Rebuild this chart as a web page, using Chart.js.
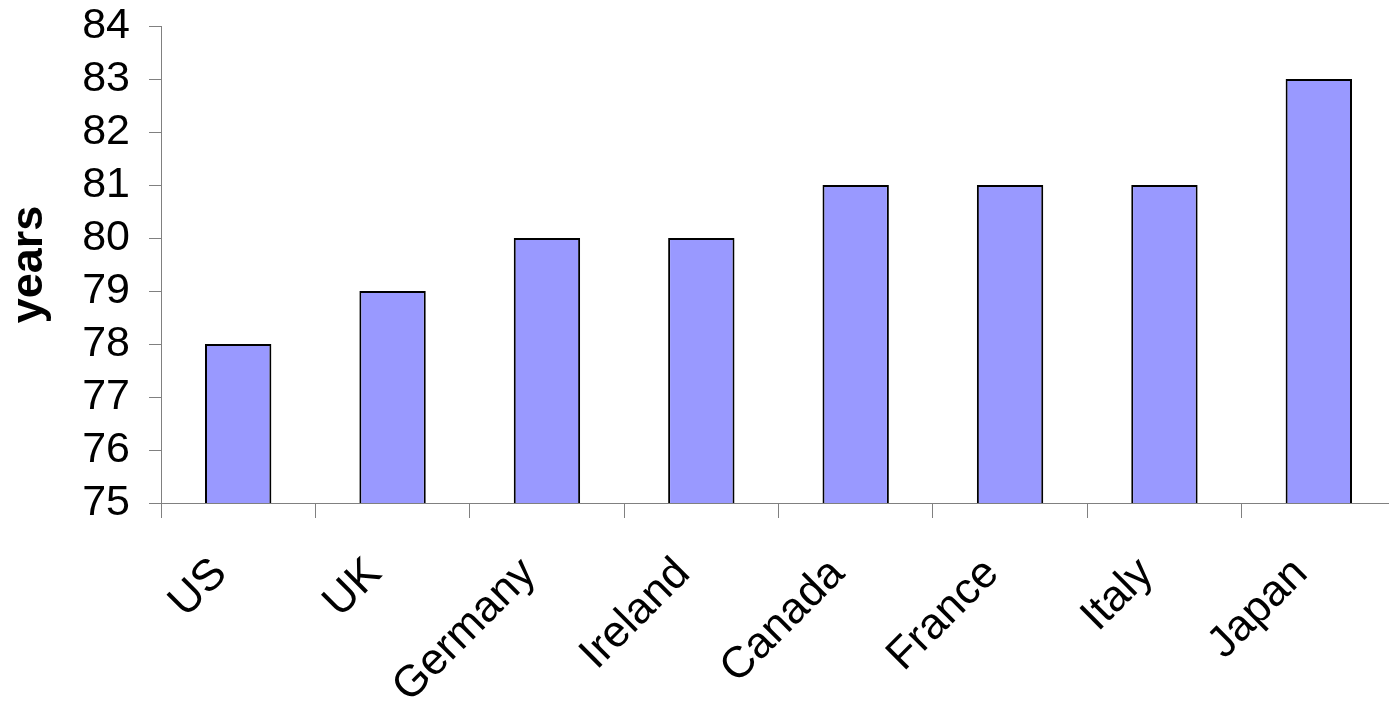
<!DOCTYPE html>
<html>
<head>
<meta charset="utf-8">
<script src="https://cdn.jsdelivr.net/npm/chart.js@4/dist/chart.umd.min.js"></script>
<style>
  html, body { margin: 0; padding: 0; background: #fff; overflow: hidden; }
  #wrap { width: 1396px; height: 701px; }
</style>
</head>
<body>
<div id="wrap"><canvas id="lifeChart" width="1396" height="701"></canvas></div>
<script>
const countries = ["US", "UK", "Germany", "Ireland", "Canada", "France", "Italy", "Japan"];
const lifeExpectancy = [78, 79, 80, 80, 81, 81, 81, 83];
const yMin = 75;
const yMax = 84;

const ctx = document.getElementById("lifeChart");
// eslint-disable-next-line no-unused-vars
const myChart = new Chart(ctx, {
  type: "bar",
  data: {
    labels: countries,
    datasets: [
      {
        data: lifeExpectancy,
        backgroundColor: "#9999FF",
        borderColor: "#000000",
        borderWidth: 2,
        borderSkipped: false,
        categoryPercentage: 1,
        barPercentage: 0.43,
      },
    ],
  },
  options: {
    responsive: false,
    animation: false,
    layout: { padding: { top: 6, right: 0, left: 0, bottom: 0 } },
    plugins: {
      legend: { display: false },
      tooltip: { enabled: false },
    },
    scales: {
      x: {
        offset: true,
        grid: {
          offset: true,
          drawOnChartArea: false,
          drawTicks: true,
          tickLength: 15,
          color: "#808080",
        },
        border: { color: "#808080", width: 1 },
        ticks: {
          autoSkip: false,
          color: "#000",
          font: { family: "Liberation Sans, Arial", size: 44 },
          minRotation: 45,
          maxRotation: 45,
          padding: 30,
          labelOffset: -18,
        },
        afterFit: (scale) => {
          scale.height = 198;
        },
      },
      y: {
        min: yMin,
        max: yMax,
        grid: {
          drawOnChartArea: false,
          drawTicks: true,
          tickLength: 12,
          color: "#808080",
        },
        border: { color: "#808080", width: 1 },
        ticks: {
          autoSkip: false,
          stepSize: 1,
          color: "#000",
          // small lineHeight keeps the top label from pushing the plot down
          font: { family: "Liberation Sans, Arial", size: 43, lineHeight: 0.33 },
          padding: 19,
        },
        title: {
          display: true,
          text: "years",
          color: "#000",
          font: { family: "Liberation Sans, Arial", size: 45, weight: "bold" },
          padding: { top: 3, bottom: 0 },
        },
        afterFit: (scale) => {
          scale.width = 161;
        },
      },
    },
  },
});
</script>
</body>
</html>
